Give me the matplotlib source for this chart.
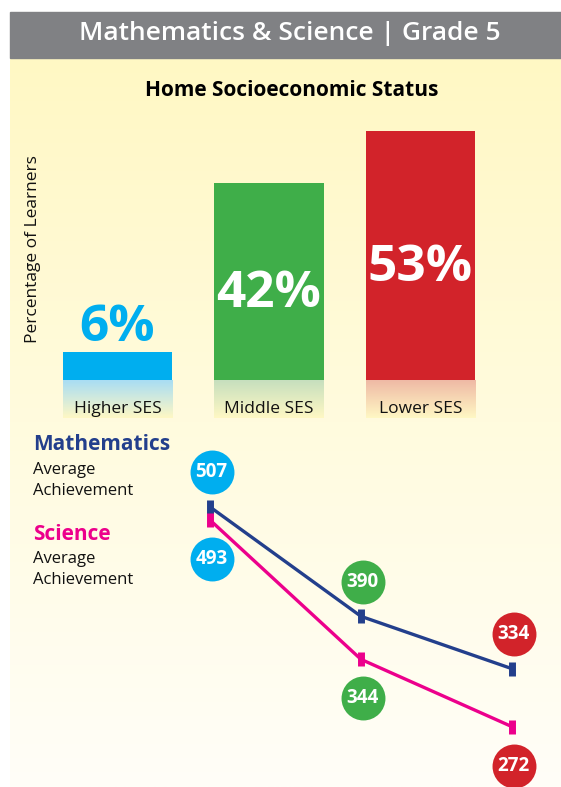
import numpy as np
import matplotlib
matplotlib.use("Agg")
import matplotlib.pyplot as plt
from matplotlib.colors import to_rgb
from matplotlib.transforms import offset_copy

# ---- data ----
categories = ["Higher SES", "Middle SES", "Lower SES"]
percent = [6, 42, 53]
math_scores = [507, 390, 334]
science_scores = [493, 344, 272]
cat_colors = ["#00AEEF", "#3FAE49", "#D2232A"]
MATH_C = "#233F8C"
SCI_C = "#EC008C"
FONT = "Open Sans"

W, H = 561, 787
fig = plt.figure(figsize=(W / 100, H / 100), dpi=100)

def fr(x0, y0, x1, y1):
    # pixel box (top-left origin) -> figure fraction rect
    return [x0 / W, 1 - y1 / H, (x1 - x0) / W, (y1 - y0) / H]

# ---- background ----
bg = fig.add_axes([0, 0, 1, 1])
bg.set_xlim(0, W); bg.set_ylim(H, 0); bg.axis("off")
top = np.array(to_rgb("#FFF8C4")); bot = np.array(to_rgb("#FFFEF8"))
t = np.linspace(0, 1, 256)[:, None]
grad = (top * (1 - t) + bot * t)[:, None, :]
bg.imshow(grad, extent=[10, W, H, 58], aspect="auto", zorder=0)
bg.add_patch(plt.Rectangle((10, 12), W - 10, 46, color="#808184", zorder=1))
bg.text(290, 34, "Mathematics & Science | Grade 5", color="white", fontsize=19,
        fontweight="semibold", family=FONT, ha="center", va="center")
bg.text(292, 90, "Home Socioeconomic Status", color="black", fontsize=15,
        fontweight="bold", family=FONT, ha="center", va="center")
bg.text(33, 249, "Percentage of Learners", color="#111111", fontsize=12.5,
        family=FONT, rotation=90, ha="center", va="center")
bg.text(33, 445, "Mathematics", color=MATH_C, fontsize=15, fontweight="bold",
        family=FONT, ha="left", va="center")
bg.text(33, 470, "Average", color="#111111", fontsize=12, family=FONT, ha="left", va="center")
bg.text(33, 491, "Achievement", color="#111111", fontsize=12, family=FONT, ha="left", va="center")
bg.text(33, 535, "Science", color=SCI_C, fontsize=15, fontweight="bold",
        family=FONT, ha="left", va="center")
bg.text(33, 559, "Average", color="#111111", fontsize=12, family=FONT, ha="left", va="center")
bg.text(33, 580, "Achievement", color="#111111", fontsize=12, family=FONT, ha="left", va="center")

# ---- bars ----
pxu = 4.7  # px per percent
y_lo = -38 / pxu
y_hi = 60
axb = fig.add_axes(fr(41.75, 380 - y_hi * pxu, 496.25, 418))
axb.set_xlim(-0.5, 2.5); axb.set_ylim(y_lo, y_hi); axb.axis("off")
axb.patch.set_alpha(0)
xs = np.arange(len(categories))
bw = 0.72
axb.bar(xs, percent, width=bw, color=cat_colors, zorder=2)
light = {"#00AEEF": "#A8DDF4", "#3FAE49": "#C6DFBE", "#D2232A": "#EFB9A5"}
for x, c in zip(xs, cat_colors):
    c1 = np.array(to_rgb(light[c])); c2 = np.array(to_rgb("#FFF8C4"))
    g = (c1 * (1 - t) + c2 * t)[:, None, :]
    axb.imshow(g, extent=[x - bw / 2, x + bw / 2, y_lo, 0], aspect="auto", zorder=1)
for x, name in zip(xs, categories):
    axb.text(x, -29.5 / pxu, name, ha="center", va="center", fontsize=12.5,
             family=FONT, color="#111111", zorder=3)
for x, p, c in zip(xs, percent, cat_colors):
    if p < 15:
        axb.text(x, p + 5.0, f"{p}%", ha="center", va="center", fontsize=37,
                 fontweight="bold", family=FONT, color=c, zorder=3)
    else:
        axb.text(x, p / 2 - 2.7, f"{p}%", ha="center", va="center", fontsize=37,
                 fontweight="bold", family=FONT, color="white", zorder=3)

# ---- lines ----
a, k = 981, 0.935
ytop_px, ybot_px = 430, 787
v_hi = (a - ytop_px) / k; v_lo = (a - ybot_px) / k
axl = fig.add_axes(fr(210 - 0.6 * 151, ytop_px, 210 + 2.2 * 151, ybot_px))
axl.set_xlim(-0.6, 2.2); axl.set_ylim(v_lo, v_hi); axl.axis("off")
axl.patch.set_alpha(0)
axl.plot(xs, math_scores, color=MATH_C, lw=2.4, marker="|", ms=10, mew=5,
         solid_capstyle="butt", zorder=3)
axl.plot(xs, science_scores, color=SCI_C, lw=2.4, marker="|", ms=10, mew=5,
         solid_capstyle="butt", zorder=3)
up = offset_copy(axl.transData, fig=fig, x=1.5, y=34.5, units="dots")
dn = offset_copy(axl.transData, fig=fig, x=1.5, y=-39, units="dots")
for x, v, c in zip(xs, math_scores, cat_colors):
    axl.scatter([x], [v], s=1000, color=c, transform=up, zorder=4, linewidths=0, clip_on=False)
    axl.text(x, v, str(v), transform=up, ha="center", va="center", color="white",
             fontsize=13.5, fontweight="bold", family=FONT, zorder=5, clip_on=False)
for x, v, c in zip(xs, science_scores, cat_colors):
    axl.scatter([x], [v], s=1000, color=c, transform=dn, zorder=4, linewidths=0, clip_on=False)
    axl.text(x, v, str(v), transform=dn, ha="center", va="center", color="white",
             fontsize=13.5, fontweight="bold", family=FONT, zorder=5, clip_on=False)

fig.savefig("out.png", dpi=100)
